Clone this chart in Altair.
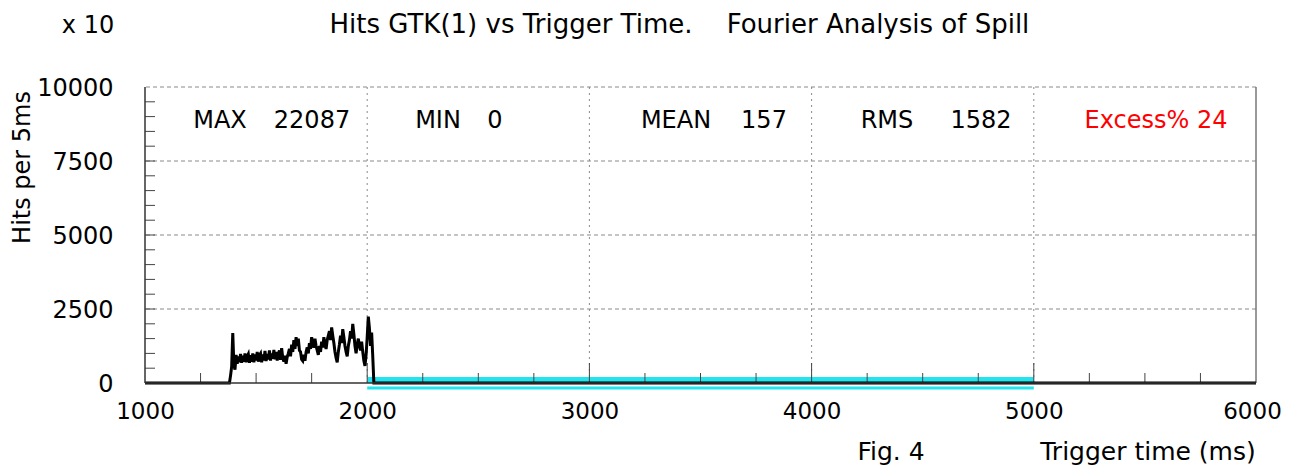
import altair as alt
import pandas as pd

FONT = "DejaVu Sans"
CYAN = "#22e4ee"

# ---------------- data ----------------
bin_times = [1000] + list(range(1380, 2035, 5)) + [6000]
hits = [0,
        0, 250, 550, 1690, 600, 450, 950, 650, 900, 700,
        980, 680, 920, 720, 1000, 700, 900, 980, 680, 940,
        720, 1000, 700, 960, 760, 1050, 720, 940, 1000, 700,
        960, 760, 1080, 740, 980, 800, 1100, 760, 1000, 820,
        1120, 800, 1050, 760, 980, 1100, 780, 1180, 850, 720,
        920, 650, 880, 1000, 1150, 900, 1300, 1050, 1450, 1150,
        1550, 1250, 1500, 1100, 1050, 800, 750, 950, 750, 1050,
        1200, 1000, 1350, 1150, 1550, 1300, 1200, 1500, 1250, 1100,
        950, 1250, 1050, 1400, 1200, 1550, 1300, 1150, 1450, 1600,
        1750, 1450, 1880, 1600, 1350, 1050, 850, 700, 1050, 1300,
        1600, 1350, 1820, 1550, 1250, 1050, 900, 1250, 1450, 1750,
        1500, 2000, 1650, 1250, 1000, 1300, 1500, 1250, 1100, 1400,
        1050, 750, 580, 950, 1550, 2240, 1850, 1250, 1700, 900,
        0,
        0]

x_tick_labels = [1000, 2000, 3000, 4000, 5000, 6000]
y_tick_labels = [0, 2500, 5000, 7500, 10000]
x_grid = [2000, 3000, 4000, 5000]
y_grid = [2500, 5000, 7500, 10000]
x_major_ticks = [2000, 3000, 4000, 5000]
x_minor_ticks = [1250, 1500, 1750, 2250, 2500, 2750, 3250, 3500, 3750,
                 4250, 4500, 4750, 5250, 5500, 5750]
y_ticks = [500, 1000, 1500, 2000, 2500, 3000, 3500, 4000, 4500, 5000,
           5500, 6000, 6500, 7000, 7500, 8000, 8500, 9000, 9500]

band_start = [2000]
band_end = [5000]
band_top = [200]
under_line = [-170]

stat_names = ["MAX", "MIN", "MEAN", "RMS"]
stat_values = ["22087", "0", "157", "1582"]
excess_text = "Excess% 24"
title_left = "Hits GTK(1) vs Trigger Time."
title_right = "Fourier Analysis of Spill"
scale_note = "x 10"
fig_label = "Fig. 4"
x_title = "Trigger time (ms)"
y_title = "Hits per 5ms"

# ---------------- scales / axes ----------------
xs = alt.Scale(domain=[1000, 6000], nice=False, zero=False)
ys = alt.Scale(domain=[0, 10000], nice=False, zero=False)

X_AX = alt.Axis(values=x_tick_labels, format="d", grid=False, domain=False,
                ticks=False, tickSize=0, labelPadding=17, labelFont=FONT,
                labelFontSize=23, labelColor="#000", labelFlush=False,
                labelOverlap=False, labelBound=False, title=None,
                labelOffset={"condition": {"test": "datum.value == 6000", "value": -4},
                             "value": 0})
Y_AX = alt.Axis(values=y_tick_labels, format="d", grid=False, domain=False,
                ticks=False, tickSize=0, labelPadding=32, labelFont=FONT,
                labelFontSize=24, labelColor="#000", labelFlush=False,
                labelOverlap=False, labelBound=False, labelOffset=1, title=None)

df_line = pd.DataFrame({"t": bin_times, "h": hits})
df_band = pd.DataFrame({"x": band_start, "x2": band_end, "y": [0], "y2": band_top})
df_under = pd.DataFrame({"x": band_start, "x2": band_end, "y": under_line})

band = alt.Chart(df_band).mark_rect(color=CYAN).encode(
    x=alt.X("x:Q", scale=xs, axis=X_AX), x2="x2:Q",
    y=alt.Y("y:Q", scale=ys, axis=Y_AX), y2="y2:Q")

under = alt.Chart(df_under).mark_rule(color=CYAN, strokeWidth=3).encode(
    x=alt.X("x:Q", scale=xs, axis=X_AX), x2="x2:Q",
    y=alt.Y("y:Q", scale=ys, axis=Y_AX))

ygrid = alt.Chart(pd.DataFrame({"v": y_grid})).mark_rule(
    color="#8a8a8a", strokeDash=[4, 3], strokeWidth=1).encode(
    y=alt.Y("v:Q", scale=ys, axis=Y_AX))

xgrid = alt.Chart(pd.DataFrame({"v": x_grid})).mark_rule(
    color="#8a8a8a", strokeDash=[2, 4], strokeWidth=1).encode(
    x=alt.X("v:Q", scale=xs, axis=X_AX))

right_border = alt.Chart(pd.DataFrame({"v": [6000]})).mark_rule(
    color="#777", strokeWidth=1.5).encode(x=alt.X("v:Q", scale=xs, axis=X_AX))
left_border = alt.Chart(pd.DataFrame({"v": [1000]})).mark_rule(
    color="#333", strokeWidth=1.5).encode(x=alt.X("v:Q", scale=xs, axis=X_AX))
bottom_border = alt.Chart(pd.DataFrame({"v": [0]})).mark_rule(
    color="#333", strokeWidth=1.5).encode(y=alt.Y("v:Q", scale=ys, axis=Y_AX))

yticks = alt.Chart(pd.DataFrame({"v": y_ticks})).mark_rule(
    color="#444", strokeWidth=1).encode(
    y=alt.Y("v:Q", scale=ys, axis=Y_AX), x=alt.value(0), x2=alt.value(10))
xminor = alt.Chart(pd.DataFrame({"v": x_minor_ticks})).mark_rule(
    color="#444", strokeWidth=1).encode(
    x=alt.X("v:Q", scale=xs, axis=X_AX), y=alt.value(296), y2=alt.value(286))
xmajor = alt.Chart(pd.DataFrame({"v": x_major_ticks})).mark_rule(
    color="#444", strokeWidth=1).encode(
    x=alt.X("v:Q", scale=xs, axis=X_AX), y=alt.value(296), y2=alt.value(276))

line = alt.Chart(df_line).mark_line(color="#000", strokeWidth=3).encode(
    x=alt.X("t:Q", scale=xs, axis=X_AX),
    y=alt.Y("h:Q", scale=ys, axis=Y_AX))

one = pd.DataFrame({"k": [0]})


def txt(s, x, y, size=24, align="center", color="#000", angle=None,
        baseline="alphabetic"):
    kw = dict(text=s, align=align, baseline=baseline, font=FONT,
              fontSize=size, color=color)
    if angle is not None:
        kw["angle"] = angle
    return alt.Chart(one).mark_text(**kw).encode(x=alt.value(x), y=alt.value(y))


texts = [
    txt(scale_note, -57, -54),
    txt(title_left, 366, -54, size=26),
    txt(title_right, 733, -54, size=26),
    txt(stat_names[0], 75, 41), txt(stat_values[0], 167, 41),
    txt(stat_names[1], 293, 41), txt(stat_values[1], 350, 41),
    txt(stat_names[2], 531, 41), txt(stat_values[2], 619, 41),
    txt(stat_names[3], 742, 41), txt(stat_values[3], 836, 41),
    txt(excess_text, 1011, 41, color="#ff0000"),
    txt(fig_label, 746, 373, size=25),
    txt(x_title, 1003, 373, size=25),
    txt(y_title, -115, 4, angle=270, align="right"),
]

chart = alt.layer(
    band, under, ygrid, xgrid, right_border, yticks, xminor, xmajor,
    line, left_border, bottom_border, *texts
).properties(
    width=1111, height=296,
    padding={"left": 137, "top": 79, "right": 26, "bottom": 85},
    autosize=alt.AutoSizeParams(type="none"),
    background="white",
).configure_view(stroke=None)

chart.save("out.html", embed_options={"renderer": "svg", "actions": False})
